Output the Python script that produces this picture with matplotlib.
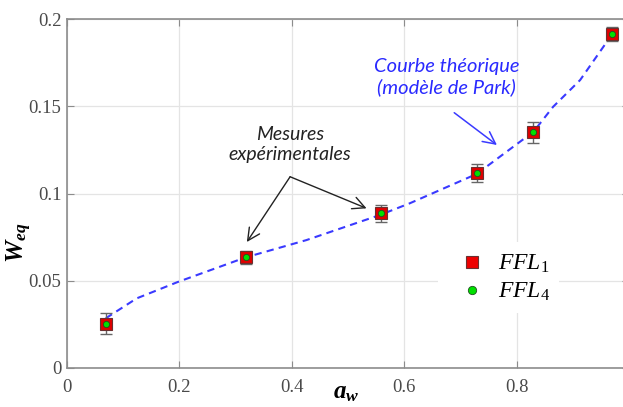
import matplotlib
matplotlib.use('Agg')
import matplotlib.pyplot as plt
from matplotlib.lines import Line2D

# ---- data ----
aw = [0.069, 0.318, 0.559, 0.729, 0.829, 0.970]
w_ffl1 = [0.0254, 0.0634, 0.0886, 0.1117, 0.1350, 0.1914]
w_ffl4 = [0.0254, 0.0634, 0.0886, 0.1117, 0.1350, 0.1914]
w_err = [0.0060, 0.0036, 0.0050, 0.0050, 0.0060, 0.0042]

# Park model curve
park_aw = [0.069, 0.124, 0.198, 0.318, 0.426, 0.557, 0.610, 0.729, 0.830, 0.865, 0.913, 0.969]
park_w = [0.0285, 0.0399, 0.0494, 0.0634, 0.0733, 0.0877, 0.0944, 0.1112, 0.1354, 0.1497, 0.1650, 0.1908]

xticks = [0, 0.2, 0.4, 0.6, 0.8]
xticklabels = ['0', '0.2', '0.4', '0.6', '0.8']
yticks = [0, 0.05, 0.1, 0.15, 0.2]
yticklabels = ['0', '0.05', '0.1', '0.15', '0.2']

plt.rcParams['mathtext.fontset'] = 'custom'
plt.rcParams['mathtext.it'] = 'Liberation Serif:italic'
plt.rcParams['mathtext.rm'] = 'Liberation Serif'
plt.rcParams['mathtext.bf'] = 'Liberation Serif:bold:italic'

fig = plt.figure(figsize=(6.23, 4.07), dpi=100)
ax = fig.add_axes([67 / 623, 39 / 407, 562 / 623, 349 / 407])

ax.plot(park_aw, park_w, color='#3a3aff', lw=1.5, ls=(0, (3.5, 2.5)), zorder=2)
ax.errorbar(aw, w_ffl1, yerr=w_err, fmt='none', ecolor='#666666', elinewidth=1,
            capsize=4, capthick=1, zorder=3)
ax.plot(aw, w_ffl1, 's', ms=8, mfc='#e00000', mec='#6b3030', mew=0.8, ls='none', zorder=4)
ax.plot(aw, w_ffl4, 'o', ms=4.5, mfc='#00e000', mec='#205020', mew=0.6, ls='none', zorder=5)

ax.set_xlim(0, 1)
ax.set_ylim(0, 0.2)
ax.set_xticks(xticks)
ax.set_xticklabels(xticklabels)
ax.set_yticks(yticks)
ax.set_yticklabels(yticklabels)
ax.grid(True, color='#e4e4e4', lw=0.9)
ax.set_axisbelow(True)
for sp in ax.spines.values():
    sp.set_color('#8c8c8c')
    sp.set_linewidth(1.2)
ax.tick_params(direction='in', length=5, color='#8c8c8c', top=True, right=True,
               labelsize=13.5, labelcolor='#4a4a4a')
ax.tick_params(axis='x', pad=8)
ax.tick_params(axis='y', pad=4)
for lab in ax.get_xticklabels() + ax.get_yticklabels():
    lab.set_family('Liberation Serif')

ax.set_xlabel(r'$\mathbf{a_w}$', fontsize=18, va='center')
ax.xaxis.set_label_coords(0.496, -0.07)
ax.set_ylabel(r'$\mathbf{W_{eq}}$', fontsize=18, va='center')
ax.yaxis.set_label_coords(-0.084, 0.36)

# annotations
ax.text(0.397, 0.128, 'Mesures\nexpérimentales', ha='center', va='center',
        fontsize=14, style='italic', family='Lato', color='#222222', linespacing=1.25)
for tip in [(0.320, 0.0722), (0.533, 0.0915)]:
    ax.annotate('', xy=tip, xytext=(0.397, 0.1096),
                arrowprops=dict(arrowstyle='->', color='#222222', lw=1,
                                mutation_scale=22, shrinkA=0, shrinkB=0))
ax.text(0.676, 0.1668, 'Courbe théorique\n(modèle de Park)', ha='center', va='center',
        fontsize=14.5, style='italic', family='Lato', color='#2a2aff', linespacing=1.2)
ax.annotate('', xy=(0.765, 0.1278), xytext=(0.689, 0.1463),
            arrowprops=dict(arrowstyle='->', color='#3a3aff', lw=1.1,
                            mutation_scale=22, shrinkA=0, shrinkB=0))

handles = [
    Line2D([], [], marker='s', ls='none', ms=9, mfc='#ee0000', mec='#6b3030', mew=0.8),
    Line2D([], [], marker='o', ls='none', ms=6, mfc='#00e000', mec='#205020', mew=0.6),
]
leg = ax.legend(handles, [r'$FFL_1$', r'$FFL_4$'], loc='center left',
                bbox_to_anchor=(0.64, 0.26), fontsize=17, frameon=True,
                handletextpad=0.1, labelspacing=0.15, borderpad=0.4)
leg.get_frame().set_edgecolor('none')
leg.get_frame().set_facecolor('white')
leg.get_frame().set_alpha(1)

fig.savefig('out.png', dpi=100)
